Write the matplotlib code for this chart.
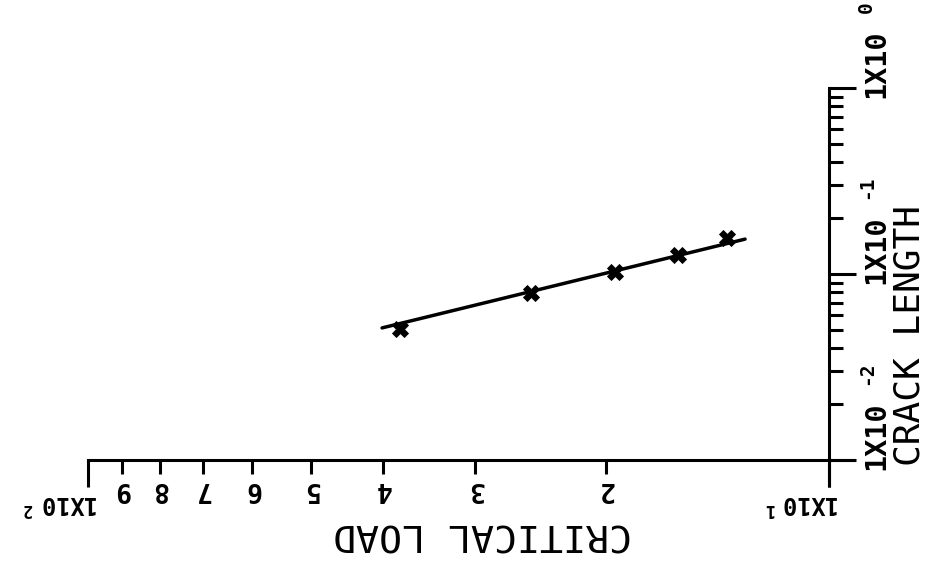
import matplotlib
matplotlib.use("Agg")
import matplotlib.pyplot as plt
from matplotlib.lines import Line2D
from matplotlib.ticker import FixedLocator, NullFormatter

# Measured critical load vs. crack length
critical_load = [37.95, 25.25, 19.45, 15.97, 13.74]
crack_length = [0.0506, 0.0787, 0.1021, 0.1265, 0.1556]

# Straight-line fit through the measurements (end points)
fit_load = [40.1, 12.98]
fit_crack = [0.0513, 0.154]

# Axis decorations
load_minor = [2, 3, 4, 5, 6, 7, 8, 9]
load_minor_labels = ["2", "3", "4", "5", "6", "7", "8", "9"]
load_major = [10, 100]
load_major_exp = ["1", "2"]
crack_major = [0.01, 0.1, 1.0]
crack_major_exp = ["-2", "-1", "0"]
crack_minor = [m * d for d in (0.01, 0.1) for m in range(2, 10)]

plt.rcParams["font.family"] = ["DejaVu Sans Mono", "DejaVu Sans"]

W, H, DPI = 926, 563, 100
fig = plt.figure(figsize=(W / DPI, H / DPI), dpi=DPI)
X0, X1, Y0, Y1 = 88, 829, 460, 88          # axes box in pixels (top-left origin)
ax = fig.add_axes([X0 / W, (H - Y0) / H, (X1 - X0) / W, (Y0 - Y1) / H])

ax.set_xscale("log")
ax.set_yscale("log")
ax.set_xlim(100, 10)
ax.set_ylim(0.01, 1.0)

lw = 2.2
for s in ("left", "top"):
    ax.spines[s].set_visible(False)
for s in ("right", "bottom"):
    ax.spines[s].set_linewidth(lw)
    ax.spines[s].set_capstyle("projecting")

ax.yaxis.tick_right()
ax.xaxis.set_major_locator(FixedLocator(load_major))
ax.xaxis.set_minor_locator(FixedLocator([v * 10 for v in load_minor]))
ax.yaxis.set_major_locator(FixedLocator(crack_major))
ax.yaxis.set_minor_locator(FixedLocator(crack_minor))
for axis in (ax.xaxis, ax.yaxis):
    axis.set_major_formatter(NullFormatter())
    axis.set_minor_formatter(NullFormatter())
ax.tick_params(which="major", direction="out", length=19.5, width=lw, color="black")
ax.tick_params(which="minor", direction="out", length=10, width=lw, color="black")
ax.tick_params(axis="y", which="both", right=True, left=False)

# at the crossing point both axis lines run on past each other
fig.add_artist(Line2D([X1 / W, X1 / W], [(H - Y0) / H, (H - Y0 - 27) / H],
                      transform=fig.transFigure, color="black", lw=lw,
                      solid_capstyle="butt"))
fig.add_artist(Line2D([X1 / W, (X1 + 26) / W], [(H - Y0) / H, (H - Y0) / H],
                      transform=fig.transFigure, color="black", lw=lw,
                      solid_capstyle="butt"))

# data and fit
ax.plot(fit_load, fit_crack, color="black", lw=2.5, solid_capstyle="round", clip_on=False)
ax.plot(critical_load, crack_length, ls="none", marker="X", ms=11, color="black",
        mec="black", mew=0.6, clip_on=False)

xfrac = ax.get_xaxis_transform()
yfrac = ax.get_yaxis_transform()

# load axis labels (upside down)
for v, lab in zip(load_minor, load_minor_labels):
    ax.annotate(lab, xy=(v * 10, 0), xycoords=xfrac, xytext=(0, -11.5),
                textcoords="offset points", rotation=180, ha="center", va="top",
                fontsize=19, fontweight="bold")
for v, e in zip(load_major, load_major_exp):
    ax.annotate("1X10", xy=(v, 0), xycoords=xfrac, xytext=(4, -22),
                textcoords="offset points", rotation=180, ha="right", va="top",
                fontsize=17, fontweight="bold")
    ax.annotate(e, xy=(v, 0), xycoords=xfrac, xytext=(-40, -29),
                textcoords="offset points", rotation=180, ha="right", va="top",
                fontsize=12, fontweight="bold")
ax.annotate("CRITICAL LOAD", xy=(0.532, 0), xycoords="axes fraction", xytext=(0, -40),
            textcoords="offset points", rotation=180, ha="center", va="top",
            fontsize=27.5)

# crack length axis labels
for v, e in zip(crack_major, crack_major_exp):
    ax.annotate("1X10", xy=(1, v), xycoords=yfrac, xytext=(24, -7),
                textcoords="offset points", rotation=90, ha="left", va="bottom",
                fontsize=20.5, fontweight="bold")
    ax.annotate(e, xy=(1, v), xycoords=yfrac, xytext=(20, 54),
                textcoords="offset points", rotation=90, ha="left", va="bottom",
                fontsize=14, fontweight="bold")
ax.annotate("CRACK LENGTH", xy=(1, 0), xycoords="axes fraction", xytext=(46, -4),
            textcoords="offset points", rotation=90, ha="left", va="bottom",
            fontsize=26)

fig.savefig("out.png", dpi=DPI)
